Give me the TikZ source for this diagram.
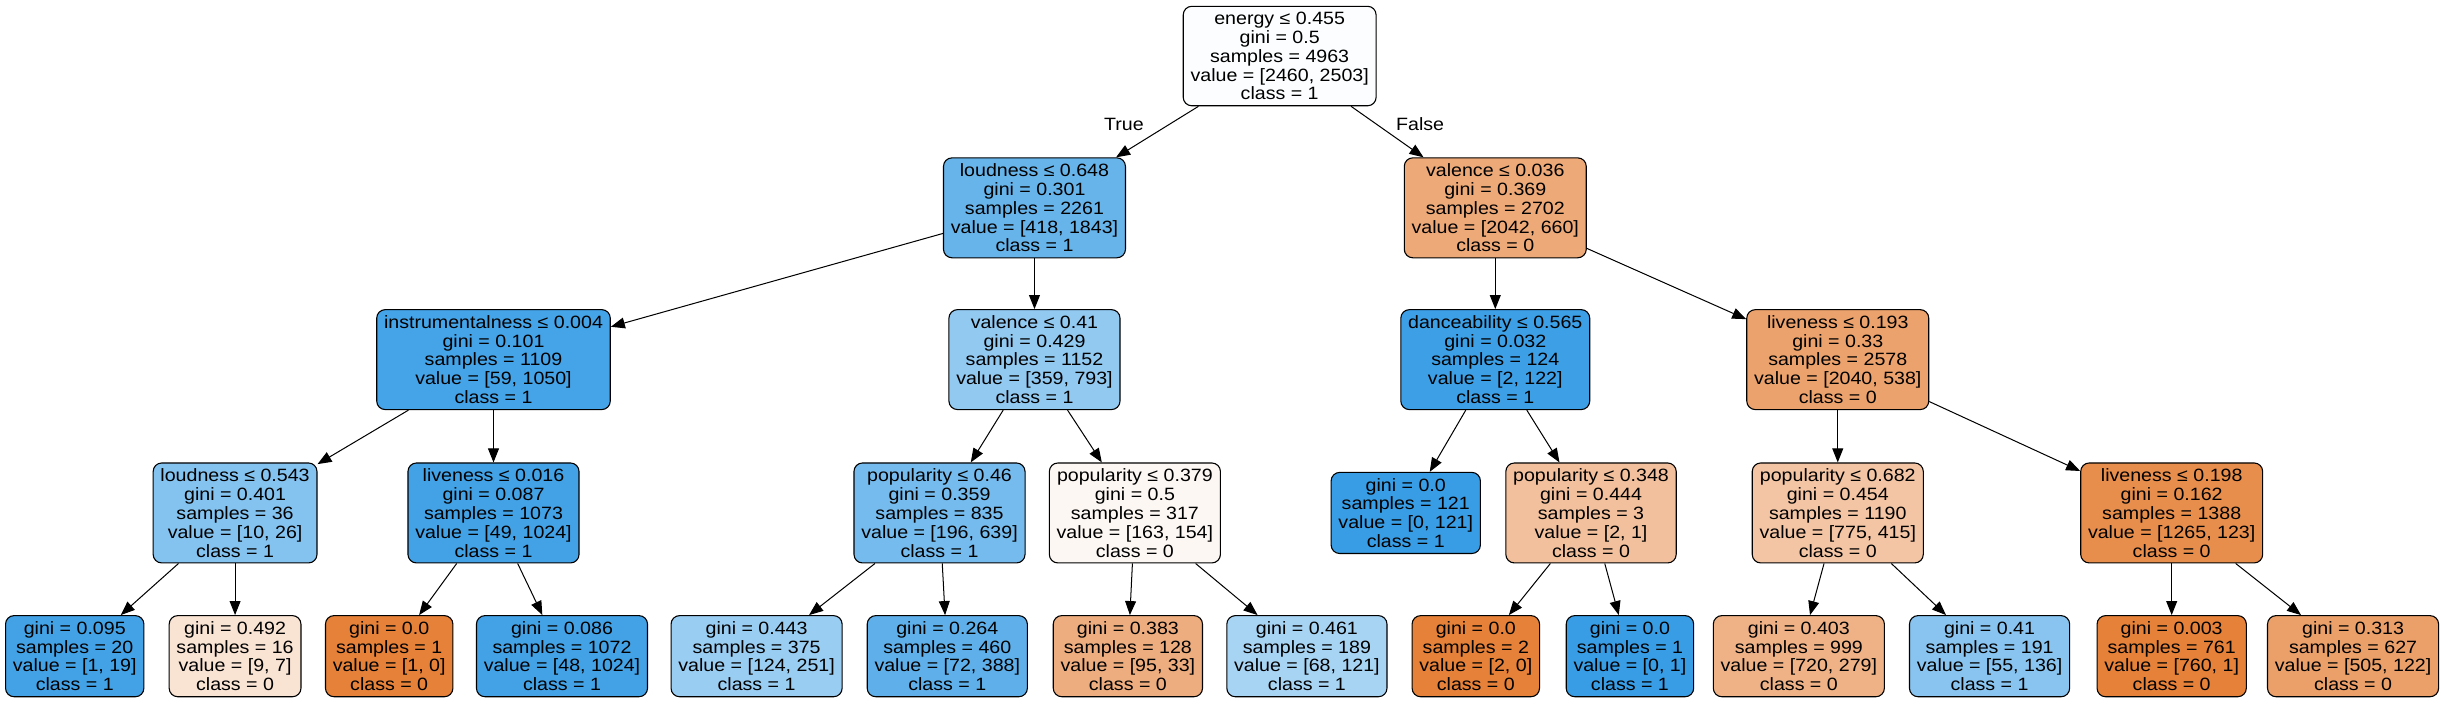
\documentclass[tikz,border=0pt]{standalone}
\usepackage{fontspec}
\setmainfont{Liberation Sans}[FakeStretch=1.1]
\usepackage{xcolor}
\usetikzlibrary{arrows.meta}
\definecolor{cz}{HTML}{E58139}
\definecolor{co}{HTML}{399DE5}
\tikzset{
  tn/.style={draw, rounded corners=5.5pt, align=center, inner xsep=4.7pt, inner ysep=3.7pt,
    line width=.7pt, font=\fontsize{11.45}{12.1}\selectfont},
  ed/.style={-{Triangle[length=9pt,width=7pt]}, line width=.65pt},
  lb/.style={font=\fontsize{11.45}{12.1}\selectfont}
}
\begin{document}
\begin{tikzpicture}[x=1pt,y=-1pt]
  \useasboundingbox (0,0) rectangle (1568,452);
  % level 0 and 1
  \node[tn, fill=co!2!white] (n0) at (822,36) {energy ≤ 0.455\\gini = 0.5\\samples = 4963\\value = [2460, 2503]\\class = 1};
  \node[tn, fill=co!77!white] (n1) at (664.5,133.5) {loudness ≤ 0.648\\gini = 0.301\\samples = 2261\\value = [418, 1843]\\class = 1};
  \node[tn, fill=cz!68!white] (n16) at (960.5,133.5) {valence ≤ 0.036\\gini = 0.369\\samples = 2702\\value = [2042, 660]\\class = 0};
  % level 2
  \node[tn, fill=co!94!white] (n2) at (317,231) {instrumentalness ≤ 0.004\\gini = 0.101\\samples = 1109\\value = [59, 1050]\\class = 1};
  \node[tn, fill=co!55!white] (n9) at (664.5,231) {valence ≤ 0.41\\gini = 0.429\\samples = 1152\\value = [359, 793]\\class = 1};
  \node[tn, fill=co!98!white] (n17) at (960.5,231) {danceability ≤ 0.565\\gini = 0.032\\samples = 124\\value = [2, 122]\\class = 1};
  \node[tn, fill=cz!74!white] (n22) at (1180.5,231) {liveness ≤ 0.193\\gini = 0.33\\samples = 2578\\value = [2040, 538]\\class = 0};
  % level 3
  \node[tn, fill=co!62!white] (n3) at (151,329.5) {loudness ≤ 0.543\\gini = 0.401\\samples = 36\\value = [10, 26]\\class = 1};
  \node[tn, fill=co!95!white] (n6) at (317,329.5) {liveness ≤ 0.016\\gini = 0.087\\samples = 1073\\value = [49, 1024]\\class = 1};
  \node[tn, fill=co!69!white] (n10) at (603.5,329.5) {popularity ≤ 0.46\\gini = 0.359\\samples = 835\\value = [196, 639]\\class = 1};
  \node[tn, fill=cz!6!white] (n13) at (729,329.5) {popularity ≤ 0.379\\gini = 0.5\\samples = 317\\value = [163, 154]\\class = 0};
  \node[tn, fill=co] (n18) at (903,329.5) {gini = 0.0\\samples = 121\\value = [0, 121]\\class = 1};
  \node[tn, fill=cz!50!white] (n19) at (1022,329.5) {popularity ≤ 0.348\\gini = 0.444\\samples = 3\\value = [2, 1]\\class = 0};
  \node[tn, fill=cz!46!white] (n23) at (1180.5,329.5) {popularity ≤ 0.682\\gini = 0.454\\samples = 1190\\value = [775, 415]\\class = 0};
  \node[tn, fill=cz!90!white] (n26) at (1395,329.5) {liveness ≤ 0.198\\gini = 0.162\\samples = 1388\\value = [1265, 123]\\class = 0};
  % leaves
  \node[tn, fill=co!95!white] (n4) at (48,421.5) {gini = 0.095\\samples = 20\\value = [1, 19]\\class = 1};
  \node[tn, fill=cz!22!white] (n5) at (151,421.5) {gini = 0.492\\samples = 16\\value = [9, 7]\\class = 0};
  \node[tn, fill=cz] (n7) at (250,421.5) {gini = 0.0\\samples = 1\\value = [1, 0]\\class = 0};
  \node[tn, fill=co!95!white] (n8) at (361,421.5) {gini = 0.086\\samples = 1072\\value = [48, 1024]\\class = 1};
  \node[tn, fill=co!51!white] (n11) at (486,421.5) {gini = 0.443\\samples = 375\\value = [124, 251]\\class = 1};
  \node[tn, fill=co!81!white] (n12) at (608.5,421.5) {gini = 0.264\\samples = 460\\value = [72, 388]\\class = 1};
  \node[tn, fill=cz!65!white] (n14) at (724.5,421.5) {gini = 0.383\\samples = 128\\value = [95, 33]\\class = 0};
  \node[tn, fill=co!44!white] (n15) at (839.5,421.5) {gini = 0.461\\samples = 189\\value = [68, 121]\\class = 1};
  \node[tn, fill=cz] (n20) at (948,421.5) {gini = 0.0\\samples = 2\\value = [2, 0]\\class = 0};
  \node[tn, fill=co] (n21) at (1047,421.5) {gini = 0.0\\samples = 1\\value = [0, 1]\\class = 1};
  \node[tn, fill=cz!61!white] (n24) at (1155.5,421.5) {gini = 0.403\\samples = 999\\value = [720, 279]\\class = 0};
  \node[tn, fill=co!60!white] (n25) at (1278,421.5) {gini = 0.41\\samples = 191\\value = [55, 136]\\class = 1};
  \node[tn, fill=cz] (n27) at (1395,421.5) {gini = 0.003\\samples = 761\\value = [760, 1]\\class = 0};
  \node[tn, fill=cz!76!white] (n28) at (1511.5,421.5) {gini = 0.313\\samples = 627\\value = [505, 122]\\class = 0};
  % edges
  \draw[ed] (n0) -- node[lb, pos=.35, left=13pt] {True} (n1);
  \draw[ed] (n0) -- node[lb, pos=.35, right=9pt] {False} (n16);
  \foreach \a/\b in {1/2,1/9,2/3,2/6,3/4,3/5,6/7,6/8,9/10,9/13,10/11,10/12,13/14,13/15,
    16/17,16/22,17/18,17/19,19/20,19/21,22/23,22/26,23/24,23/25,26/27,26/28}
    \draw[ed] (n\a) -- (n\b);
\end{tikzpicture}
\end{document}
